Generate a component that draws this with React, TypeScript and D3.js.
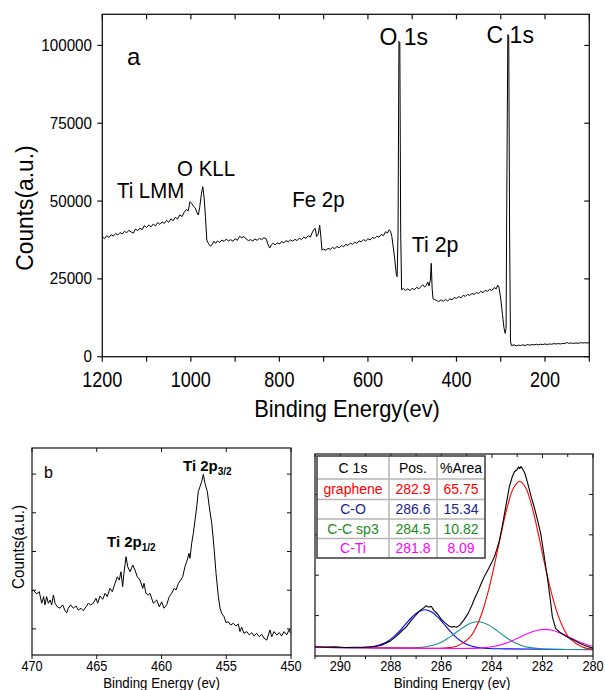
import React from "react";
import * as d3 from "d3";

// ---------- Panel a: survey spectrum [binding energy (eV), counts] ----------
const SURVEY: [number, number][] = [
  [1200, 38600], [1195, 37900], [1190, 38900], [1185, 38300], [1180, 39200], [1175, 38700],
  [1170, 39600], [1165, 39100], [1160, 39900], [1155, 39400], [1150, 40300], [1145, 39800],
  [1140, 40600], [1135, 40100], [1130, 39700], [1125, 41000], [1120, 40500], [1115, 41300],
  [1110, 40800], [1105, 42100], [1100, 41500], [1095, 42300], [1090, 41700], [1085, 42600],
  [1080, 42000], [1075, 43100], [1070, 42500], [1065, 43300], [1060, 42800], [1055, 43800],
  [1050, 43200], [1045, 44300], [1040, 43700], [1035, 44800], [1030, 44200], [1025, 45600],
  [1020, 45000], [1015, 46400], [1010, 47300], [1006, 46800], [1002, 49800], [998, 49200],
  [994, 48300], [990, 47800], [986, 46200], [983, 45500], [980, 48000], [976, 52500],
  [973, 54600], [970, 51000], [967, 45000], [964, 37500], [960, 36300], [956, 35500],
  [952, 36000], [948, 37100], [944, 36400], [940, 37200], [935, 36700], [930, 37500],
  [925, 37000], [920, 37800], [915, 37200], [910, 37600], [905, 37100], [900, 37900],
  [895, 37400], [890, 38700], [885, 38200], [880, 38600], [875, 37800], [870, 37300],
  [865, 37600], [860, 37200], [855, 37800], [850, 37400], [845, 38000], [840, 37600],
  [835, 38200], [830, 37900], [826, 36200], [822, 34900], [818, 35900], [814, 36500],
  [810, 35900], [805, 36600], [800, 36200], [795, 37000], [790, 36600], [785, 37300],
  [780, 36900], [775, 37500], [770, 37100], [765, 37700], [760, 37300], [755, 38100],
  [750, 37600], [745, 38400], [740, 38000], [735, 38900], [730, 38400], [726, 39800],
  [722, 40900], [719, 41200], [716, 38600], [712, 39500], [709, 42300], [706, 38000],
  [704, 34300], [700, 34500], [695, 34200], [690, 34800], [685, 34500], [680, 35100],
  [675, 34700], [670, 35400], [665, 35000], [660, 35700], [655, 35300], [650, 36100],
  [645, 35700], [640, 36500], [635, 36100], [630, 36800], [625, 36400], [620, 37200],
  [615, 36900], [610, 37600], [605, 37200], [600, 37900], [595, 37500], [590, 38300],
  [585, 38000], [580, 38700], [575, 38400], [570, 39300], [565, 38900], [560, 40200],
  [556, 39700], [552, 40800], [549, 40300], [546, 38600], [540, 32000], [536, 26500],
  [534, 25700], [532, 40000], [530, 101300], [528, 101000], [526, 40000], [524, 21500],
  [520, 21900], [515, 21300], [510, 21800], [505, 21200], [500, 22000], [495, 21500],
  [490, 22300], [485, 21800], [480, 22600], [476, 23100], [472, 22400], [468, 22900],
  [465, 24000], [462, 22700], [459, 24600], [457, 30000], [455, 22000], [453, 18600],
  [450, 18400], [445, 18100], [440, 17700], [435, 18300], [430, 17800], [425, 18400],
  [420, 17900], [415, 18600], [410, 18300], [405, 19000], [400, 18700], [395, 19300],
  [390, 18900], [385, 19700], [380, 19400], [375, 20000], [370, 19700], [365, 20300],
  [360, 20000], [355, 20600], [350, 20300], [345, 21000], [340, 20600], [335, 21300],
  [330, 21000], [325, 21600], [320, 21300], [315, 22200], [310, 21800], [307, 23000],
  [304, 22400], [300, 18500], [296, 13500], [293, 9500], [290, 7500], [288, 9000],
  [286, 60000], [284, 103500], [282, 103000], [280, 40000], [278, 5000], [276, 3600],
  [270, 3800], [265, 3500], [260, 3700], [255, 3600], [250, 3800], [245, 3600],
  [240, 3900], [235, 3700], [230, 3900], [225, 3800], [220, 4000], [215, 3800],
  [210, 4000], [205, 3900], [200, 4100], [195, 3900], [190, 4100], [185, 4000],
  [180, 4200], [175, 4100], [170, 4200], [165, 4100], [160, 4300], [155, 4200],
  [151, 4600], [147, 4300], [140, 4400], [135, 4300], [130, 4400], [125, 4300],
  [120, 4500], [115, 4400], [110, 4500], [105, 4400], [100, 4500],
];
const A_XTICKS = [1200, 1000, 800, 600, 400, 200];
const A_XMINOR = [1100, 900, 700, 500, 300, 100];
const A_YTICKS = [0, 25000, 50000, 75000, 100000];
const A_LABELS: { text: string; e: number; c: number; size: number; sx: number }[] = [
  { text: "Ti LMM", e: 1167, c: 51000, size: 22, sx: 0.93 },
  { text: "O KLL", e: 1031, c: 58150, size: 22, sx: 0.93 },
  { text: "Fe 2p", e: 771, c: 48100, size: 22, sx: 0.93 },
  { text: "O 1s", e: 574, c: 100200, size: 23, sx: 1 },
  { text: "Ti 2p", e: 501, c: 33600, size: 23, sx: 0.93 },
  { text: "C 1s", e: 332, c: 100850, size: 23, sx: 1 },
];

// ---------- Panel b: Ti 2p high-resolution [eV, intensity a.u.] ----------
const TI2P: [number, number][] = [
  [470, 30.6], [469.9, 31.4], [469.64, 29.5], [469.44, 30.6], [469.25, 25], [469.1, 28.2],
  [469.0, 24.2], [468.87, 28.2], [468.74, 25], [468.6, 26.6], [468.48, 24.2], [468.35, 29],
  [468.22, 25], [468.05, 23.3], [467.84, 22.6], [467.63, 24.2], [467.45, 21.4], [467.32, 20.4],
  [467.2, 22.6], [467.01, 24.2], [466.81, 22.6], [466.6, 23.7], [466.42, 21.7], [466.22, 22.6],
  [466.04, 21.4], [465.83, 23.3], [465.65, 25], [465.47, 24.2], [465.27, 25], [465.06, 27.4],
  [464.93, 25], [464.75, 28.5], [464.54, 26.9], [464.36, 29.8], [464.19, 28.2], [463.98, 32.2],
  [463.8, 30.6], [463.59, 34.6], [463.41, 37.8], [463.26, 36.2], [463.13, 40.2], [463.0, 33],
  [462.9, 39.5], [462.74, 47.5], [462.61, 42.7], [462.43, 40.2], [462.22, 43.5], [462.05, 41.1],
  [461.87, 37.8], [461.66, 36.2], [461.45, 32.2], [461.35, 34.6], [461.2, 29.8], [461.02, 29],
  [460.89, 29.8], [460.63, 25], [460.37, 26.6], [460.17, 23.3], [459.99, 25.7], [459.81, 22.6],
  [459.6, 24.2], [459.4, 28.2], [459.21, 29.8], [459.03, 32.2], [458.88, 31.4], [458.7, 34.6],
  [458.52, 36.2], [458.36, 37.8], [458.19, 42.7], [458.01, 45.9], [457.88, 49.1], [457.8, 46.7],
  [457.67, 54], [457.54, 58.8], [457.41, 65.2], [457.28, 71.6], [457.16, 78.9], [457.03, 81.3],
  [456.9, 83.7], [456.77, 87.3], [456.64, 82.9], [456.46, 78.9], [456.31, 71.6], [456.12, 63.6],
  [455.95, 52.3], [455.79, 39.5], [455.61, 28.2], [455.48, 22.6], [455.35, 20.1], [455.17, 18.5],
  [455.02, 15.6], [454.84, 16.1], [454.66, 14.5], [454.46, 15.3], [454.25, 14], [454.07, 15],
  [453.94, 11.3], [453.81, 13.4], [453.63, 10.5], [453.42, 11.3], [453.22, 9.7], [453.03, 10.8],
  [452.86, 9.2], [452.65, 10.5], [452.45, 8.8], [452.26, 10], [452.08, 8.1], [451.87, 7.2],
  [451.75, 9.7], [451.62, 12.1], [451.49, 8.8], [451.31, 11.3], [451.1, 9.7], [450.9, 10.8],
  [450.72, 9.2], [450.54, 11.3], [450.33, 9.7], [450.13, 12.4], [450.03, 10.5],
];
const B_XTICKS = [470, 465, 460, 455, 450];
const B_YTICKS = [12.6, 31.3, 50, 68.7, 87.4];

// ---------- Panel c: C 1s high-resolution with fitted components ----------
const C1S_MEASURED: [number, number][] = [
  [291, 4.6], [290.6, 4.4], [290.2, 4.5], [289.8, 4.2], [289.4, 4.3], [289.0, 4.3],
  [288.7, 4.6], [288.4, 5.2], [288.2, 6.3], [288.0, 7.6], [287.8, 9.6], [287.6, 12.0],
  [287.4, 14.3], [287.2, 17.5], [287.0, 20.3], [286.85, 22.4], [286.7, 23.8], [286.6, 24.9],
  [286.5, 24.2], [286.4, 24.6], [286.3, 22.6], [286.15, 20.8], [286.0, 18.1], [285.85, 16.4],
  [285.7, 14.8], [285.6, 14.3], [285.5, 14.6], [285.4, 14.2], [285.27, 15.3], [285.1, 18.0],
  [284.94, 21.1], [284.8, 24.9], [284.68, 28.6], [284.55, 32.0], [284.42, 36.0], [284.3, 39.3],
  [284.16, 42.6], [284.0, 46.5], [283.9, 49.2], [283.8, 53.0], [283.7, 57.4], [283.6, 63.5],
  [283.5, 70.6], [283.4, 77.5], [283.31, 83.8], [283.2, 88.5], [283.11, 91.2], [283.0, 92.3],
  [282.95, 93.6], [282.9, 92.8], [282.85, 93.8], [282.78, 92.4], [282.7, 90.6], [282.59, 85.8],
  [282.45, 79.0], [282.33, 73.9], [282.2, 67.5], [282.07, 60.7], [281.95, 51.0], [281.87, 44.2],
  [281.8, 38.5], [281.74, 32.7], [281.67, 26.0], [281.61, 19.5], [281.48, 13.7], [281.3, 11.6],
  [281.15, 10.4], [280.95, 8.9], [280.76, 7.9], [280.55, 6.4], [280.37, 5.4], [280.18, 4.6],
  [280, 3.8],
];
const C1S_GRAPHENE: [number, number][] = [
  [291, 4.3], [287, 3.9], [285.9, 3.96], [285.4, 4.82], [284.9, 8.88], [284.65, 13.63],
  [284.4, 21.04], [284.15, 31.72], [283.9, 45.09], [283.65, 59.77], [283.4, 73.34], [283.15, 83.0],
  [282.9, 86.49], [282.65, 82.97], [282.4, 73.24], [282.15, 59.62], [281.9, 44.89], [281.65, 31.47],
  [281.4, 20.74], [281.15, 13.28], [280.9, 8.48], [280.4, 4.32], [280, 3.44],
];
const C1S_CO: [number, number][] = [
  [291, 4.3], [289.15, 4.24], [288.65, 4.8], [288.4, 5.63], [288.15, 7.09], [287.9, 9.35],
  [287.65, 12.42], [287.4, 15.99], [287.15, 19.44], [286.9, 21.96], [286.65, 22.87], [286.4, 21.91],
  [286.15, 19.34], [285.9, 15.84], [285.65, 12.22], [285.4, 9.1], [285.15, 6.79], [284.9, 5.28],
  [284.65, 4.41], [284.15, 3.74], [283.5, 3.55], [280, 3.1],
];
const C1S_SP3: [number, number][] = [
  [291, 4.3], [287.05, 4.08], [286.55, 4.69], [286.3, 5.43], [286.05, 6.6], [285.8, 8.29],
  [285.55, 10.41], [285.3, 12.73], [285.05, 14.9], [284.8, 16.42], [284.55, 16.96], [284.3, 16.37],
  [284.05, 14.8], [283.8, 12.58], [283.55, 10.2], [283.3, 8.04], [283.05, 6.3], [282.8, 5.08],
  [282.55, 4.29], [282.05, 3.58], [280, 3.2],
];
const C1S_CTI: [number, number][] = [
  [291, 4.3], [284.9, 3.78], [284.4, 4.01], [283.9, 4.8], [283.65, 5.54], [283.4, 6.56],
  [283.15, 7.84], [282.9, 9.29], [282.65, 10.77], [282.4, 12.03], [282.15, 12.9], [281.9, 13.19],
  [281.65, 12.86], [281.4, 11.93], [281.15, 10.62], [280.9, 9.09], [280.65, 7.59], [280.4, 6.26],
  [280.15, 5.19], [280, 4.68],
];
const C_XTICKS = [290, 288, 286, 284, 282, 280];
const C_XMINOR = [291, 289, 287, 285, 283, 281];
const C_YTICKS = [20, 40, 60, 80];
const TABLE_HEADER = ["C 1s", "Pos.", "%Area"];
const TABLE_ROWS = [
  ["graphene", "282.9", "65.75"],
  ["C-O", "286.6", "15.34"],
  ["C-C sp3", "284.5", "10.82"],
  ["C-Ti", "281.8", "8.09"],
];
const ROW_COLORS = ["#ff0000", "#22228e", "#1c8a1c", "#ff00ff"];
const COMPONENTS = [
  { data: C1S_CO, color: "#0000ff" },
  { data: C1S_SP3, color: "#1a9090" },
  { data: C1S_GRAPHENE, color: "#ff0000" },
  { data: C1S_CTI, color: "#ff00ff" },
];

const FONT = "'Liberation Sans', Arial, Helvetica, sans-serif";

type TProps = {
  x: number; y: number; size: number; sx?: number; anchor?: string; weight?: string;
  fill?: string; rotate?: number; children: React.ReactNode;
};
function T({ x, y, size, sx = 1, anchor = "start", weight = "normal", fill = "#000", rotate, children }: TProps) {
  const tr = `translate(${x},${y})${rotate ? ` rotate(${rotate})` : ""} scale(${sx},1)`;
  return (
    <text transform={tr} fontSize={size} fontFamily={FONT} textAnchor={anchor as any} fontWeight={weight} fill={fill}>
      {children}
    </text>
  );
}

export default function App() {
  // ---------------- Panel a ----------------
  const A = { l: 102.3, r: 589.3, t: 14.3, b: 356.7 };
  const ax = d3.scaleLinear().domain([1200, 100]).range([A.l, A.r]);
  const ay = d3.scaleLinear().domain([0, 110000]).range([A.b, A.t]);
  const aLine = d3.line<[number, number]>().x((d) => ax(d[0])).y((d) => ay(d[1]));

  // ---------------- Panel b ----------------
  const B = { l: 32, r: 291, t: 448, b: 655 };
  const bx = d3.scaleLinear().domain([470, 450]).range([B.l, B.r]);
  const by = d3.scaleLinear().domain([0, 100]).range([B.b, B.t]);
  const bLine = d3.line<[number, number]>().x((d) => bx(d[0])).y((d) => by(d[1]));

  // ---------------- Panel c ----------------
  const C = { l: 315, r: 593, t: 454, b: 656 };
  const cx = d3.scaleLinear().domain([291, 280]).range([C.l, C.r]);
  const cy = d3.scaleLinear().domain([0, 100]).range([C.b, C.t]);
  const cLine = d3.line<[number, number]>().x((d) => cx(d[0])).y((d) => cy(d[1]));
  const cSmooth = d3.line<[number, number]>().x((d) => cx(d[0])).y((d) => cy(d[1])).curve(d3.curveCatmullRom.alpha(0.5));

  // table geometry
  const colX = [317, 389, 437, 485];
  const rowY = [456, 479, 499.5, 519, 538.5, 558];

  const frame = "#111";
  return (
    <svg width={605} height={690} viewBox="0 0 605 690" style={{ position: "absolute", left: 0, top: 0, background: "#fff" }}>
      <rect x={0} y={0} width={605} height={690} fill="#fff" />

      {/* ============ Panel a ============ */}
      <path d={aLine(SURVEY) || ""} fill="none" stroke="#000" strokeWidth={1} strokeLinejoin="round" />
      <rect x={A.l} y={A.t} width={A.r - A.l} height={A.b - A.t} fill="none" stroke={frame} strokeWidth={1.3} />
      {A_XTICKS.concat(A_XMINOR).map((v) => (
        <g key={"ax" + v}>
          <line x1={ax(v)} x2={ax(v)} y1={A.b} y2={A.b + 5} stroke={frame} strokeWidth={1.2} />
          <line x1={ax(v)} x2={ax(v)} y1={A.t} y2={A.t + 5} stroke={frame} strokeWidth={1.2} />
        </g>
      ))}
      {A_XTICKS.map((v) => (
        <T key={"axl" + v} x={ax(v)} y={387} size={22} sx={0.82} anchor="middle">{v}</T>
      ))}
      {A_YTICKS.map((v) => (
        <g key={"ay" + v}>
          <line x1={A.l - 5} x2={A.l} y1={ay(v)} y2={ay(v)} stroke={frame} strokeWidth={1.2} />
          <line x1={A.r - 5} x2={A.r} y1={ay(v)} y2={ay(v)} stroke={frame} strokeWidth={1.2} />
          <T x={92} y={ay(v) + 5.5} size={16} sx={0.95} anchor="end">{v}</T>
        </g>
      ))}
      <T x={33} y={208} size={24} sx={0.95} anchor="middle" rotate={-90}>Counts(a.u.)</T>
      <T x={347} y={417} size={23} sx={0.95} anchor="middle">Binding Energy(ev)</T>
      <T x={127} y={65} size={24}>a</T>
      {A_LABELS.map((l) => (
        <T key={l.text} x={ax(l.e)} y={ay(l.c)} size={l.size} sx={l.sx}>{l.text}</T>
      ))}

      {/* ============ Panel b ============ */}
      <path d={bLine(TI2P) || ""} fill="none" stroke="#000" strokeWidth={1} strokeLinejoin="round" />
      <rect x={B.l} y={B.t} width={B.r - B.l} height={B.b - B.t} fill="none" stroke={frame} strokeWidth={1.2} />
      {B_XTICKS.map((v) => (
        <g key={"bx" + v}>
          <line x1={bx(v)} x2={bx(v)} y1={B.b} y2={B.b + 4} stroke={frame} strokeWidth={1} />
          <line x1={bx(v)} x2={bx(v)} y1={B.t} y2={B.t + 4} stroke={frame} strokeWidth={1} />
          <T x={bx(v)} y={671} size={15} sx={0.85} anchor="middle">{v}</T>
        </g>
      ))}
      {B_YTICKS.map((v) => (
        <g key={"by" + v}>
          <line x1={B.l} x2={B.l + 4} y1={by(v)} y2={by(v)} stroke={frame} strokeWidth={1} />
          <line x1={B.r - 4} x2={B.r} y1={by(v)} y2={by(v)} stroke={frame} strokeWidth={1} />
        </g>
      ))}
      <T x={24} y={547} size={17} sx={0.9} anchor="middle" rotate={-90}>Counts(a.u.)</T>
      <T x={161.5} y={688} size={14} sx={0.95} anchor="middle">Binding Energy (ev)</T>
      <T x={44} y={478} size={16}>b</T>
      <text x={183} y={471} fontSize={15} fontFamily={FONT} fontWeight="bold" fill="#000">
        Ti 2p<tspan fontSize={10} dy={4}>3/2</tspan>
      </text>
      <text x={107} y={547} fontSize={15} fontFamily={FONT} fontWeight="bold" fill="#000">
        Ti 2p<tspan fontSize={10} dy={4}>1/2</tspan>
      </text>

      {/* ============ Panel c ============ */}
      {COMPONENTS.map((c, i) => (
        <path key={"cmp" + i} d={cSmooth(c.data) || ""} fill="none" stroke={c.color} strokeWidth={1.1} />
      ))}
      <path d={cLine(C1S_MEASURED) || ""} fill="none" stroke="#000" strokeWidth={1.1} strokeLinejoin="round" />
      <rect x={C.l} y={C.t} width={C.r - C.l} height={C.b - C.t} fill="none" stroke={frame} strokeWidth={1.2} />
      {C_XTICKS.map((v) => (
        <g key={"cx" + v}>
          <line x1={cx(v)} x2={cx(v)} y1={C.b} y2={C.b + 4} stroke={frame} strokeWidth={1} />
          <line x1={cx(v)} x2={cx(v)} y1={C.t} y2={C.t + 4} stroke={frame} strokeWidth={1} />
          <T x={cx(v)} y={671} size={15} sx={0.85} anchor="middle">{v}</T>
        </g>
      ))}
      {C_XMINOR.map((v) => (
        <g key={"cxm" + v}>
          <line x1={cx(v)} x2={cx(v)} y1={C.b} y2={C.b + 3} stroke={frame} strokeWidth={1} />
          <line x1={cx(v)} x2={cx(v)} y1={C.t} y2={C.t + 3} stroke={frame} strokeWidth={1} />
        </g>
      ))}
      {C_YTICKS.map((v) => (
        <g key={"cy" + v}>
          <line x1={C.l} x2={C.l + 4} y1={cy(v)} y2={cy(v)} stroke={frame} strokeWidth={1} />
          <line x1={C.r - 4} x2={C.r} y1={cy(v)} y2={cy(v)} stroke={frame} strokeWidth={1} />
        </g>
      ))}
      <T x={452} y={688} size={14} sx={0.95} anchor="middle">Binding Energy (ev)</T>

      {/* table */}
      <rect x={colX[0]} y={rowY[0]} width={colX[3] - colX[0]} height={rowY[5] - rowY[0]} fill="#fff" />
      {rowY.slice(1, 5).map((y, i) => (
        <line key={"tr" + i} x1={colX[0]} x2={colX[3]} y1={y} y2={y} stroke="#b5b5b5" strokeWidth={1.5} />
      ))}
      {colX.slice(1, 3).map((x, i) => (
        <line key={"tc" + i} x1={x} x2={x} y1={rowY[0]} y2={rowY[5]} stroke="#b5b5b5" strokeWidth={1.5} />
      ))}
      <rect x={colX[0]} y={rowY[0]} width={colX[3] - colX[0]} height={rowY[5] - rowY[0]} fill="none" stroke="#3a3a3a" strokeWidth={1.5} />
      {TABLE_HEADER.map((h, j) => (
        <T key={"th" + j} x={(colX[j] + colX[j + 1]) / 2} y={(rowY[0] + rowY[1]) / 2 + 5} size={14} anchor="middle">{h}</T>
      ))}
      {TABLE_ROWS.map((row, i) =>
        row.map((cell, j) => (
          <T key={"td" + i + j} x={(colX[j] + colX[j + 1]) / 2} y={(rowY[i + 1] + rowY[i + 2]) / 2 + 5} size={14} anchor="middle" fill={ROW_COLORS[i]}>
            {cell}
          </T>
        ))
      )}
    </svg>
  );
}
